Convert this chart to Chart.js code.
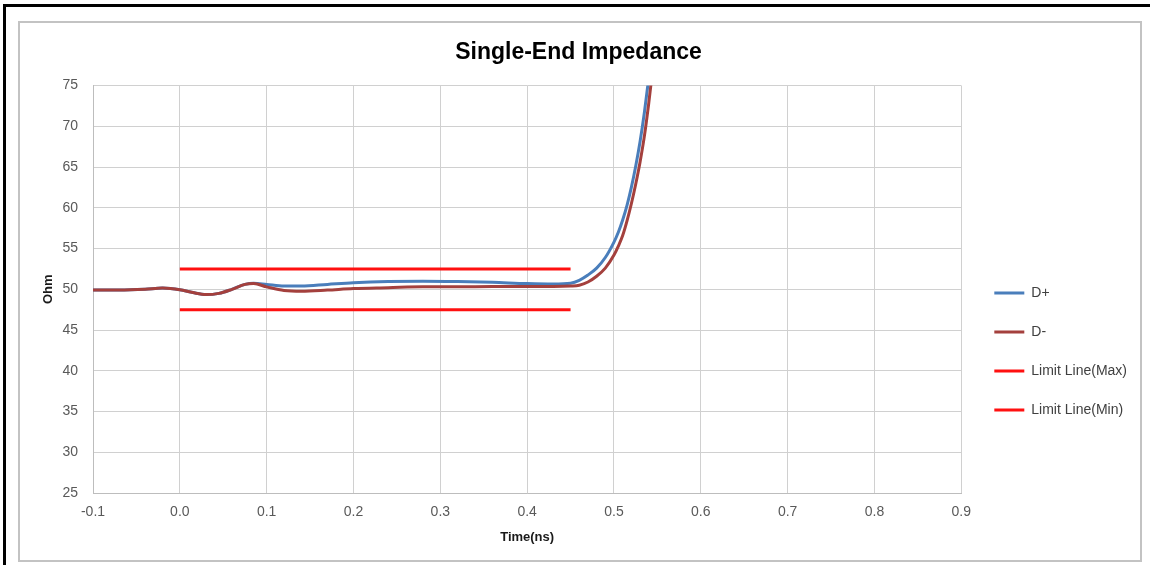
<!DOCTYPE html>
<html>
<head>
<meta charset="utf-8">
<title>Single-End Impedance</title>
<script src="https://cdn.jsdelivr.net/npm/chart.js@4.4.1/dist/chart.umd.min.js"></script>
<style>
    html, body { margin: 0; padding: 0; background: #fff; }
    #frame { position: absolute; left: 3px; top: 4px; width: 1150px; height: 565px; border-left: 3px solid #000; border-top: 3px solid #000; }
    #box { position: absolute; left: 18px; top: 21px; width: 1120px; height: 537px; border: 2px solid #c3c3c3; }
</style>
</head>
<body>
<div id="frame"></div>
<div id="box"><canvas id="impChart" width="1120" height="537"></canvas></div>
<script>
// time axis (ns) shared by both traces
const timeNs = [-0.10, -0.07, -0.04, -0.02, 0.00, 0.015, 0.03, 0.045, 0.06, 0.075, 0.085,
    0.10, 0.12, 0.14, 0.17, 0.20, 0.24, 0.28, 0.32, 0.36, 0.40, 0.43, 0.45, 0.46, 0.47,
    0.48, 0.49, 0.50, 0.505, 0.51, 0.515, 0.52, 0.525, 0.53, 0.535, 0.54, 0.545];

const dPlus = [49.9, 49.9, 50.0, 50.15, 49.95, 49.6, 49.35, 49.5, 50.0, 50.6, 50.75,
    50.6, 50.4, 50.4, 50.6, 50.8, 50.95, 51.0, 50.95, 50.85, 50.7, 50.65, 50.75, 51.1, 51.75,
    52.6, 53.9, 55.8, 57.0, 58.5, 60.3, 62.5, 65.1, 68.1, 71.7, 75.9, 80.7];

const dMinus = [49.9, 49.9, 50.0, 50.15, 49.95, 49.6, 49.35, 49.5, 50.0, 50.6, 50.7,
    50.3, 49.85, 49.75, 49.9, 50.1, 50.2, 50.3, 50.3, 50.35, 50.35, 50.35, 50.4, 50.5, 50.9,
    51.6, 52.6, 54.2, 55.3, 56.6, 58.4, 60.5, 62.9, 65.6, 68.8, 72.8, 77.4];

const limitTime = [0.0, 0.45];
const limitMax = [52.5, 52.5];
const limitMin = [47.5, 47.5];

const seriesNames = ['D+', 'D-', 'Limit Line(Max)', 'Limit Line(Min)'];

const FONT = "'Liberation Sans', Arial, sans-serif";

function toPoints(xs, ys) {
    return xs.map((x, i) => ({ x: x, y: ys[i] }));
}

const lineStyle = (color) => ({
    borderColor: color,
    backgroundColor: color,
    borderWidth: 3,
    pointRadius: 0,
    fill: false,
    clip: 0,
    borderCapStyle: 'butt'
});

new Chart(document.getElementById('impChart'), {
    type: 'line',
    data: {
        datasets: [
            { label: seriesNames[0], data: toPoints(timeNs, dPlus), order: 2, cubicInterpolationMode: 'monotone', ...lineStyle('#4A7EBB') },
            { label: seriesNames[1], data: toPoints(timeNs, dMinus), order: 1, cubicInterpolationMode: 'monotone', ...lineStyle('#A4403D') },
            { label: seriesNames[2], data: toPoints(limitTime, limitMax), order: 0, ...lineStyle('#FF1010') },
            { label: seriesNames[3], data: toPoints(limitTime, limitMin), order: 0, ...lineStyle('#FF1010') }
        ]
    },
    options: {
        responsive: false,
        animation: false,
        layout: { padding: { left: 0, right: 3, top: 0, bottom: 0 } },
        plugins: {
            title: {
                display: true,
                text: 'Single-End Impedance',
                color: '#000',
                font: { family: FONT, size: 23, weight: 'bold' },
                padding: { top: 16, bottom: 19 }
            },
            legend: {
                position: 'right',
                align: 'center',
                title: { display: true, text: '', font: { size: 10 }, padding: { top: 108, bottom: 0 } },
                labels: {
                    usePointStyle: true,
                    pointStyle: 'line',
                    pointStyleWidth: 30,
                    padding: 25,
                    color: '#404040',
                    font: { family: FONT, size: 14 },
                    sort: (a, b) => a.datasetIndex - b.datasetIndex
                }
            },
            tooltip: { enabled: false }
        },
        scales: {
            x: {
                type: 'linear',
                min: -0.1,
                max: 0.9,
                afterFit: (s) => { s.height = 67; },
                grid: { color: '#d0d0d0', drawTicks: false },
                border: { color: '#bdbdbd' },
                ticks: {
                    stepSize: 0.1,
                    padding: 11,
                    color: '#595959',
                    font: { family: FONT, size: 14 },
                    callback: (v) => (Math.abs(v) < 1e-9 ? 0 : v).toFixed(1)
                },
                title: {
                    display: true,
                    text: 'Time(ns)',
                    color: '#1a1a1a',
                    font: { family: FONT, size: 13, weight: 'bold' },
                    padding: { top: 0, bottom: 15 }
                }
            },
            y: {
                min: 25,
                max: 75,
                afterFit: (s) => { s.width = 73; },
                grid: { color: '#d0d0d0', drawTicks: false },
                border: { color: '#bdbdbd' },
                ticks: {
                    stepSize: 5,
                    padding: 15,
                    color: '#595959',
                    font: { family: FONT, size: 14 }
                },
                title: {
                    display: true,
                    text: 'Ohm',
                    color: '#1a1a1a',
                    font: { family: FONT, size: 13, weight: 'bold' },
                    padding: { top: 21, bottom: 0 }
                }
            },
            // small spacer between plot area and legend
            gap: {
                type: 'linear',
                position: 'right',
                display: true,
                afterFit: (s) => { s.width = 8; },
                grid: { display: false },
                border: { display: false },
                ticks: { display: false }
            }
        }
    }
});
</script>
</body>
</html>
